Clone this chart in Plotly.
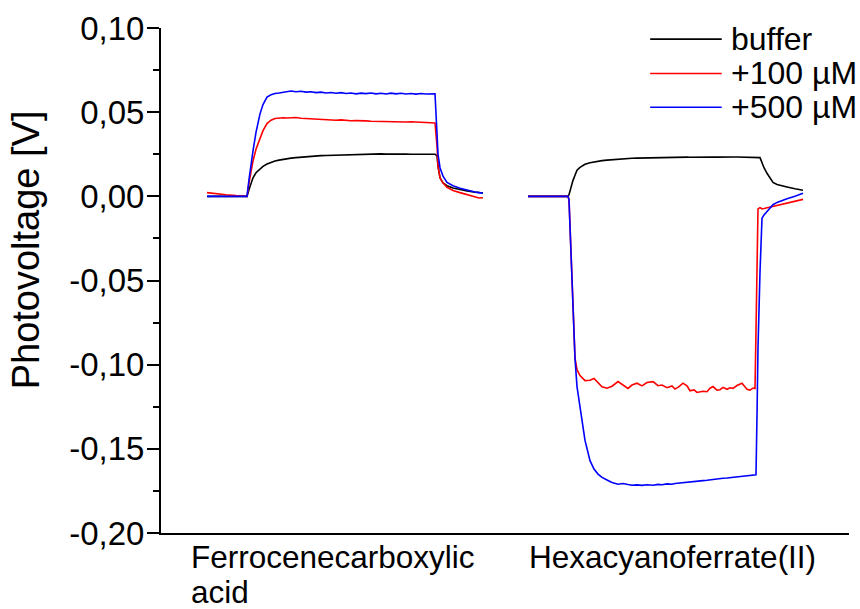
import plotly.graph_objects as go

# Photovoltage transients (time in s, voltage in V) for two redox mediators.
# Each group: buffer only, +100 µM and +500 µM mediator, sampled on a common time grid.

t_fc = [46, 55, 65, 75, 86, 88, 90, 92, 95, 99, 102, 106, 110, 114, 118, 122, 126, 130,
        135, 140, 145, 150, 155, 160, 165, 170, 175, 180, 185, 190, 195, 200, 205, 210,
        215, 220, 225, 230, 235, 240, 245, 250, 255, 260, 265, 270, 274, 276, 277, 279,
        282, 286, 292, 299, 306, 314, 318, 322]
buffer_fc = [0.0000, 0.0000, 0.0000, 0.0001, 0.0000, 0.0040, 0.0080, 0.0110, 0.0140, 0.0165,
             0.0178, 0.0192, 0.0202, 0.0210, 0.0215, 0.0220, 0.0224, 0.0227, 0.0230, 0.0233,
             0.0236, 0.0238, 0.0240, 0.0242, 0.0243, 0.0244, 0.0246, 0.0247, 0.0248, 0.0248,
             0.0249, 0.0250, 0.0250, 0.0251, 0.0250, 0.0252, 0.0251, 0.0252, 0.0251, 0.0252,
             0.0251, 0.0250, 0.0251, 0.0250, 0.0251, 0.0250, 0.0250, 0.0240, 0.0180, 0.0110,
             0.0080, 0.0063, 0.0050, 0.0040, 0.0032, 0.0025, 0.0022, 0.0020]
uM100_fc = [0.0022, 0.0015, 0.0009, 0.0004, 0.0000, 0.0080, 0.0150, 0.0210, 0.0280, 0.0350,
            0.0390, 0.0432, 0.0452, 0.0462, 0.0466, 0.0467, 0.0465, 0.0466, 0.0468, 0.0464,
            0.0462, 0.0463, 0.0459, 0.0457, 0.0456, 0.0453, 0.0452, 0.0454, 0.0450, 0.0449,
            0.0450, 0.0447, 0.0448, 0.0446, 0.0445, 0.0447, 0.0444, 0.0445, 0.0443, 0.0444,
            0.0442, 0.0443, 0.0441, 0.0440, 0.0439, 0.0438, 0.0436, 0.0300, 0.0180, 0.0110,
            0.0080, 0.0054, 0.0035, 0.0022, 0.0010, -0.0002, -0.0010, -0.0008]
uM500_fc = [0.0000, 0.0000, 0.0001, 0.0000, 0.0000, 0.0100, 0.0200, 0.0270, 0.0380, 0.0490,
            0.0545, 0.0590, 0.0603, 0.0611, 0.0614, 0.0619, 0.0622, 0.0626, 0.0621, 0.0624,
            0.0619, 0.0621, 0.0616, 0.0619, 0.0614, 0.0617, 0.0612, 0.0616, 0.0611, 0.0614,
            0.0609, 0.0613, 0.0610, 0.0614, 0.0609, 0.0612, 0.0608, 0.0613, 0.0609, 0.0612,
            0.0608, 0.0611, 0.0607, 0.0611, 0.0608, 0.0610, 0.0609, 0.0375, 0.0250, 0.0170,
            0.0120, 0.0083, 0.0063, 0.0048, 0.0036, 0.0026, 0.0022, 0.0018]

t_hcf = [367, 380, 395, 407, 408, 410, 412, 414, 416, 419, 424, 429, 433, 437, 441, 446, 451,
         457, 462, 467, 471, 476, 481, 486, 492, 497, 501, 506, 511, 514, 518, 522, 526, 529,
         533, 536, 542, 546, 549, 552, 556, 559, 562, 566, 569, 572, 576, 581, 586, 589, 592,
         594, 595, 596, 597, 599, 600, 601, 603, 606, 609, 612, 616, 619, 626, 634, 642]
buffer_hcf = [0.0000, 0.0000, 0.0001, 0.0000, 0.0010, 0.0060, 0.0095, 0.0125, 0.0155, 0.0172,
              0.0190, 0.0200, 0.0205, 0.0209, 0.0212, 0.0215, 0.0218, 0.0221, 0.0223, 0.0225,
              0.0226, 0.0227, 0.0228, 0.0229, 0.0230, 0.0231, 0.0231, 0.0232, 0.0232, 0.0233,
              0.0232, 0.0233, 0.0233, 0.0232, 0.0233, 0.0234, 0.0233, 0.0234, 0.0233, 0.0234,
              0.0233, 0.0234, 0.0233, 0.0234, 0.0233, 0.0234, 0.0234, 0.0233, 0.0234, 0.0234,
              0.0233, 0.0234, 0.0234, 0.0234, 0.0234, 0.0230, 0.0215, 0.0195, 0.0170, 0.0137,
              0.0108, 0.0083, 0.0070, 0.0065, 0.0056, 0.0045, 0.0036]
uM100_hcf = [0.0000, 0.0001, 0.0000, 0.0000, -0.0020, -0.0300, -0.0650, -0.0960, -0.1030,
             -0.1065, -0.1095, -0.1093, -0.1082, -0.1105, -0.1131, -0.1140, -0.1128, -0.1100,
             -0.1120, -0.1141, -0.1121, -0.1110, -0.1126, -0.1106, -0.1101, -0.1125, -0.1121,
             -0.1137, -0.1126, -0.1145, -0.1131, -0.1110, -0.1126, -0.1155, -0.1150, -0.1165,
             -0.1158, -0.1161, -0.1140, -0.1130, -0.1151, -0.1149, -0.1135, -0.1146, -0.1137,
             -0.1141, -0.1124, -0.1110, -0.1146, -0.1151, -0.1139, -0.1142, -0.0800, -0.0300,
             -0.0075, -0.0067, -0.0070, -0.0074, -0.0072, -0.0068, -0.0063, -0.0058, -0.0052,
             -0.0049, -0.0042, -0.0030, -0.0018]
uM500_hcf = [0.0000, 0.0000, 0.0001, 0.0000, -0.0020, -0.0300, -0.0650, -0.0964, -0.1130,
             -0.1256, -0.1450, -0.1570, -0.1620, -0.1650, -0.1670, -0.1685, -0.1700, -0.1710,
             -0.1706, -0.1712, -0.1716, -0.1714, -0.1717, -0.1713, -0.1716, -0.1711, -0.1713,
             -0.1708, -0.1710, -0.1706, -0.1703, -0.1700, -0.1697, -0.1696, -0.1693, -0.1692,
             -0.1689, -0.1687, -0.1684, -0.1683, -0.1679, -0.1677, -0.1675, -0.1673, -0.1671,
             -0.1669, -0.1666, -0.1662, -0.1660, -0.1658, -0.1656, -0.1654, -0.1654, -0.1300,
             -0.0900, -0.0450, -0.0250, -0.0130, -0.0110, -0.0090, -0.0066, -0.0050, -0.0036,
             -0.0028, -0.0014, 0.0000, 0.0018]

series_names = ["buffer", "+100 µM", "+500 µM"]
series_colors = ["#000000", "#ff0000", "#0000ff"]

# Group names (one list of text lines per group) and where each starts on the time axis
group_labels = [["Ferrocenecarboxylic", "acid"], ["Hexacyanoferrate(II)"]]
group_label_t = [28, 366]

y_tickvals = [-0.20, -0.15, -0.10, -0.05, 0.00, 0.05, 0.10]
y_ticktext = ["-0,20", "-0,15", "-0,10", "-0,05", "0,00", "0,05", "0,10"]
y_minorvals = [-0.175, -0.125, -0.075, -0.025, 0.025, 0.075]
y_title = "Photovoltage [V]"

FONT = "Liberation Sans, Arial, sans-serif"

fig = go.Figure()
left = [buffer_fc, uM100_fc, uM500_fc]
right = [buffer_hcf, uM100_hcf, uM500_hcf]
for name, color, vl, vr in zip(series_names, series_colors, left, right):
    fig.add_trace(go.Scatter(
        x=t_fc + [None] + t_hcf,
        y=vl + [None] + vr,
        mode="lines", name=name,
        line=dict(color=color, width=1.6),
        connectgaps=False, showlegend=False,
    ))

# Legend drawn as short line samples with labels at the upper right
legend_rows_y = [0.978, 0.910, 0.843]
for name, color, ly in zip(series_names, series_colors, legend_rows_y):
    fig.add_shape(type="line", xref="paper", yref="paper",
                  x0=0.711, x1=0.815, y0=ly, y1=ly,
                  line=dict(color=color, width=1.6))
    fig.add_annotation(xref="paper", yref="paper", x=0.826, y=ly,
                       xanchor="left", yanchor="middle", showarrow=False,
                       text=name, font=dict(size=32, color="#000000", family=FONT))

# Group names under the time axis, left-aligned, one annotation per text line
for lines, tx in zip(group_labels, group_label_t):
    for i, line_text in enumerate(lines):
        fig.add_annotation(xref="x", yref="paper", x=tx, y=0,
                           xanchor="left", yanchor="middle", yshift=-24 - 35 * i,
                           showarrow=False, text=line_text,
                           font=dict(size=31.5, color="#000000", family=FONT))

# Vertical axis title
fig.add_annotation(xref="paper", yref="paper", x=-0.196, y=0.56,
                   xanchor="center", yanchor="middle", textangle=-90,
                   showarrow=False, text=y_title,
                   font=dict(size=38, color="#000000", family=FONT))

fig.update_layout(
    width=860, height=609,
    margin=dict(l=161, r=11, t=28, b=76),
    paper_bgcolor="white", plot_bgcolor="white",
    font=dict(family=FONT, size=31, color="#000000"),
    xaxis=dict(range=[0, 688], showgrid=False, zeroline=False,
               showline=True, linecolor="#000000", linewidth=2,
               ticks="", showticklabels=False),
    yaxis=dict(range=[-0.2, 0.1], showgrid=False, zeroline=False,
               showline=True, linecolor="#000000", linewidth=2,
               tickmode="array", tickvals=y_tickvals, ticktext=y_ticktext,
               ticks="outside", ticklen=12, tickwidth=2, tickcolor="#000000",
               tickfont=dict(size=33, family=FONT), ticklabelstandoff=-4,
               minor=dict(tickmode="array", tickvals=y_minorvals, ticks="outside",
                          ticklen=6, tickwidth=2, tickcolor="#000000")),
)

fig.write_html("out.html")
